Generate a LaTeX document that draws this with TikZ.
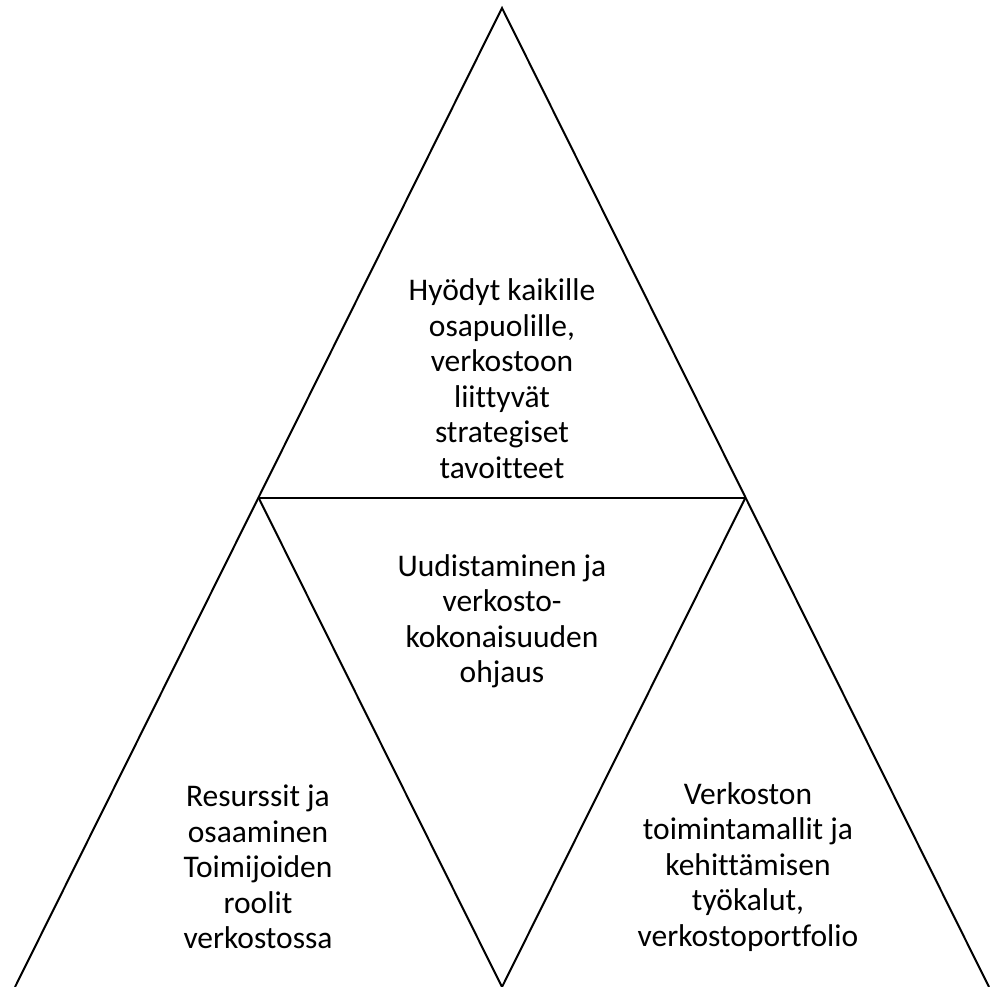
\documentclass[tikz,border=0pt]{standalone}
\usepackage{fontspec}
\setmainfont{Carlito}[Ligatures=NoCommon]
\begin{document}
\begin{tikzpicture}[x=1pt,y=-1pt,
  edge/.style={draw=black,line width=2pt,line join=miter},
  lbl/.style={align=center,inner sep=0pt,font=\fontsize{31.5}{35.5}\selectfont}]
\useasboundingbox (0,0) rectangle (994,987);
\coordinate (A) at (502,8);
\coordinate (L) at (15,987);
\coordinate (R) at (989,987);
\coordinate (ML) at (258.5,497.5);
\coordinate (MR) at (745.5,497.5);
\coordinate (MB) at (502,987);
\draw[edge] (L) -- (A) -- (R);
\draw[edge] (ML) -- (MR);
\draw[edge] (ML) -- (MB) -- (MR);
\node[lbl] (top) at (502,378.5) {Hyödyt kaikille\\osapuolille,\\verkostoon\\liittyvät\\strategiset\\tavoitteet};
\node[lbl] (mid) at (502,621.5) {Uudistaminen ja\\verkosto-\\kokonaisuuden\\ohjaus};
\node[lbl] (left) at (258,867) {Resurssit ja\\osaaminen\\Toimijoiden\\roolit\\verkostossa};
\node[lbl] (right) at (748,867) {Verkoston\\toimintamallit ja\\kehittämisen\\työkalut,\\verkostoportfolio};
\end{tikzpicture}
\end{document}
